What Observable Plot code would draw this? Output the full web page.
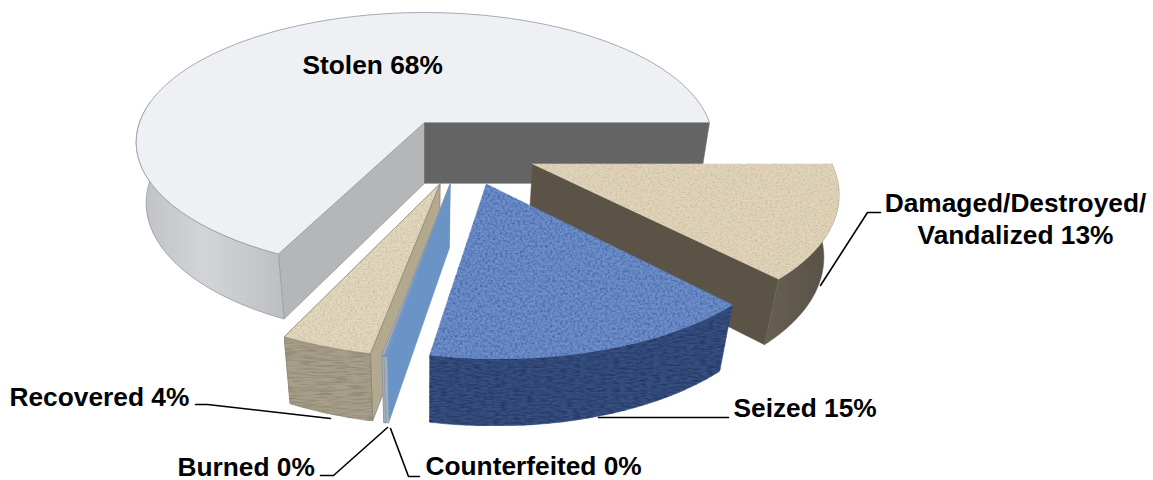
<!DOCTYPE html>
<html><head><meta charset="utf-8">
<script src="https://cdn.jsdelivr.net/npm/d3@7"></script>
<script src="https://cdn.jsdelivr.net/npm/@observablehq/plot@0.6"></script>
<style>html,body{margin:0;padding:0;background:#fff}svg{display:block}</style>
</head><body><div id="chart"></div>
<script>
// Data, clockwise from 3 o'clock
const categories = ["Damaged/Destroyed/\nVandalized", "Seized", "Counterfeited", "Burned", "Recovered", "Stolen"];
const shares = [13, 15, 0.1, 0.1, 4.1, 67.7];

// Look of each slice
const topFill = ["#e0d5bc", "#6d8fc9", "#6f97cc", "#a9b4c4", "#e2d8c0", "#eff0f3"];
const wallFill = ["url(#brown)", "#364f80", "#a4aebb", "#a4aebb", "#a89f8b", "url(#silver)"];
const cutFill = ["#5a5346", "#364f80", "#6a93c6", "#a4aebb", "#b3a98f", "#b5b6b8"];
const farFill = "#646464";
const edge = [null, null, null, "#8a94a2", "#8f8a7c", "#9aa1ad"];
const topTexture = ["url(#weave)", "url(#weaveBlue)", null, null, "url(#weave)", null];
const wallTexture = [null, "url(#bandsBlue)", null, null, "url(#bands)", null];
const paintOrder = [5, 0, 1, 4, 3, 2];

// 3-D view of the pie
const view = {cx: 424, cy: 122, sx: 285, sy: 126.7, depth: 63, persp: 0.152, persp2: 0.035, explode: 0.25};
function project(X, Y, d) {
  const f = 1 / (1 - view.persp * Y + view.persp2 * d);
  return {x: view.cx + X * view.sx * f, y: view.cy + (Y * view.sy + d * view.depth) * f};
}
const total = d3.sum(shares);
const cum = d3.cumsum(shares);
const slices = shares.map((v, i) => ({a0: (i ? cum[i - 1] : 0) / total * 2 * Math.PI, a1: cum[i] / total * 2 * Math.PI}));
const bis = s => (s.a0 + s.a1) / 2;
const base = [-view.explode * Math.cos(bis(slices[5])), -view.explode * Math.sin(bis(slices[5]))];
slices.forEach(s => {
  s.ox = base[0] + view.explode * Math.cos(bis(s));
  s.oy = base[1] + view.explode * Math.sin(bis(s));
});
const rim = (s, a, d) => project(s.ox + Math.cos(a), s.oy + Math.sin(a), d);
const hub = (s, d) => project(s.ox, s.oy, d);
const arcAngles = (a0, a1) => d3.range(0, 81).map(t => a0 + (a1 - a0) * t / 80);
const closed = pts => [...pts, pts[0]];
const area = pts => d3.polygonArea(pts.map(p => [p.x, p.y]));

function face(points, fill, stroke, texture) {
  return Plot.line(points, {x: "x", y: "y", fill, stroke: stroke || fill, strokeWidth: stroke ? 0.9 : 0.5, curve: "linear",
    strokeLinejoin: "round", ...(texture ? {imageFilter: texture} : {})});
}
function noiseFilter(id, freq, seed, rgb, gain, bias) {
  return `<filter id="${id}" x="0" y="0" width="1" height="1" color-interpolation-filters="sRGB">
    <feTurbulence type="fractalNoise" baseFrequency="${freq}" numOctaves="2" seed="${seed}" result="n"/>
    <feColorMatrix in="n" values="0 0 0 0 ${rgb[0]}  0 0 0 0 ${rgb[1]}  0 0 0 0 ${rgb[2]}  ${gain} 0 0 0 ${bias}" result="t"/>
    <feComposite in="t" in2="SourceAlpha" operator="in" result="c"/>
    <feMerge><feMergeNode in="SourceGraphic"/><feMergeNode in="c"/></feMerge></filter>`;
}
const marks = [];
marks.push(() => {
  const defs = document.createElementNS("http://www.w3.org/2000/svg", "defs");
  defs.innerHTML = `
  <linearGradient id="silver" gradientUnits="userSpaceOnUse" x1="135" x2="290" y1="0" y2="0">
    <stop offset="0" stop-color="#bfc0c3"/><stop offset=".45" stop-color="#d3d4d6"/><stop offset="1" stop-color="#bcbdc0"/></linearGradient>
  <linearGradient id="brown" gradientUnits="userSpaceOnUse" x1="770" x2="835" y1="0" y2="0">
    <stop offset="0" stop-color="#655e51"/><stop offset="1" stop-color="#565044"/></linearGradient>` +
    noiseFilter("weave", ".4 .6", 4, [.76, .69, .54], 1.4, -.56) +
    noiseFilter("weaveBlue", ".4 .4", 7, [.28, .40, .66], 2.2, -.85) +
    noiseFilter("bands", ".06 .6", 9, [.5, .46, .38], 1.4, -.55) +
    noiseFilter("bandsBlue", ".15 .5", 11, [.13, .2, .36], 1.8, -.65);
  return defs;
});

for (const i of paintOrder) {
  const s = slices[i];
  // flat cut faces, shown only when turned toward the viewer
  const start = [hub(s, 0), rim(s, s.a0, 0), rim(s, s.a0, 1), hub(s, 1)];
  const end = [hub(s, 0), rim(s, s.a1, 0), rim(s, s.a1, 1), hub(s, 1)];
  if (area(start) > 0) marks.push(face(closed(start), cutFill[i], edge[i]));
  if (area(end) < 0) marks.push(face(closed(end), i === 5 ? farFill : cutFill[i], i === 5 ? null : edge[i]));
  // curved outer wall, front part only
  const angles = arcAngles(s.a0, s.a1).filter(a => a < Math.PI + 0.2);
  const wall = [...angles.map(a => rim(s, a, 0)), ...angles.slice().reverse().map(a => rim(s, a, 1))];
  marks.push(face(closed(wall), wallFill[i], edge[i], wallTexture[i]));
  // top
  const top = [hub(s, 0), ...arcAngles(s.a0, s.a1).map(a => rim(s, a, 0))];
  marks.push(face(closed(top), topFill[i], edge[i], topTexture[i]));
}

// Label layout
const labelText = categories.map((c, i) => `${c} ${d3.format(".0f")(shares[i])}%`);
const labelLayout = [
  {x: 1015, y: 243, anchor: "middle"},
  {x: 733, y: 416, anchor: "start"},
  {x: 425, y: 474.5, anchor: "start"},
  {x: 177, y: 475, anchor: "start"},
  {x: 9, y: 405, anchor: "start"},
  {x: 302, y: 73, anchor: "start"}
];
const leaders = [
  [[820, 285], [867, 212], [880, 212]],
  [[598, 417], [728, 417]],
  [[390, 428], [408, 476], [419, 476]],
  [[387, 427], [333, 475], [320, 475]],
  [[330, 418], [207, 404], [195, 404]]
];
for (const l of leaders) marks.push(Plot.line(l, {x: d => d[0], y: d => d[1], stroke: "#000", strokeWidth: 1.6, curve: "linear"}));
labelText.forEach((t, i) => {
  const L = labelLayout[i];
  marks.push(Plot.text([t], {x: () => L.x, y: () => L.y, text: d => d, textAnchor: L.anchor, lineAnchor: "bottom", fontFamily: "Liberation Sans", fontWeight: "bold", fontSize: 26.3, lineHeight: 1.18, fill: "#000"}));
});

const chart = Plot.plot({
  width: 1153, height: 480, margin: 0,
  x: {domain: [0, 1153], range: [0, 1153], axis: null},
  y: {domain: [0, 480], range: [0, 480], axis: null},
  marks
});
document.getElementById("chart").append(chart);
</script></body></html>
